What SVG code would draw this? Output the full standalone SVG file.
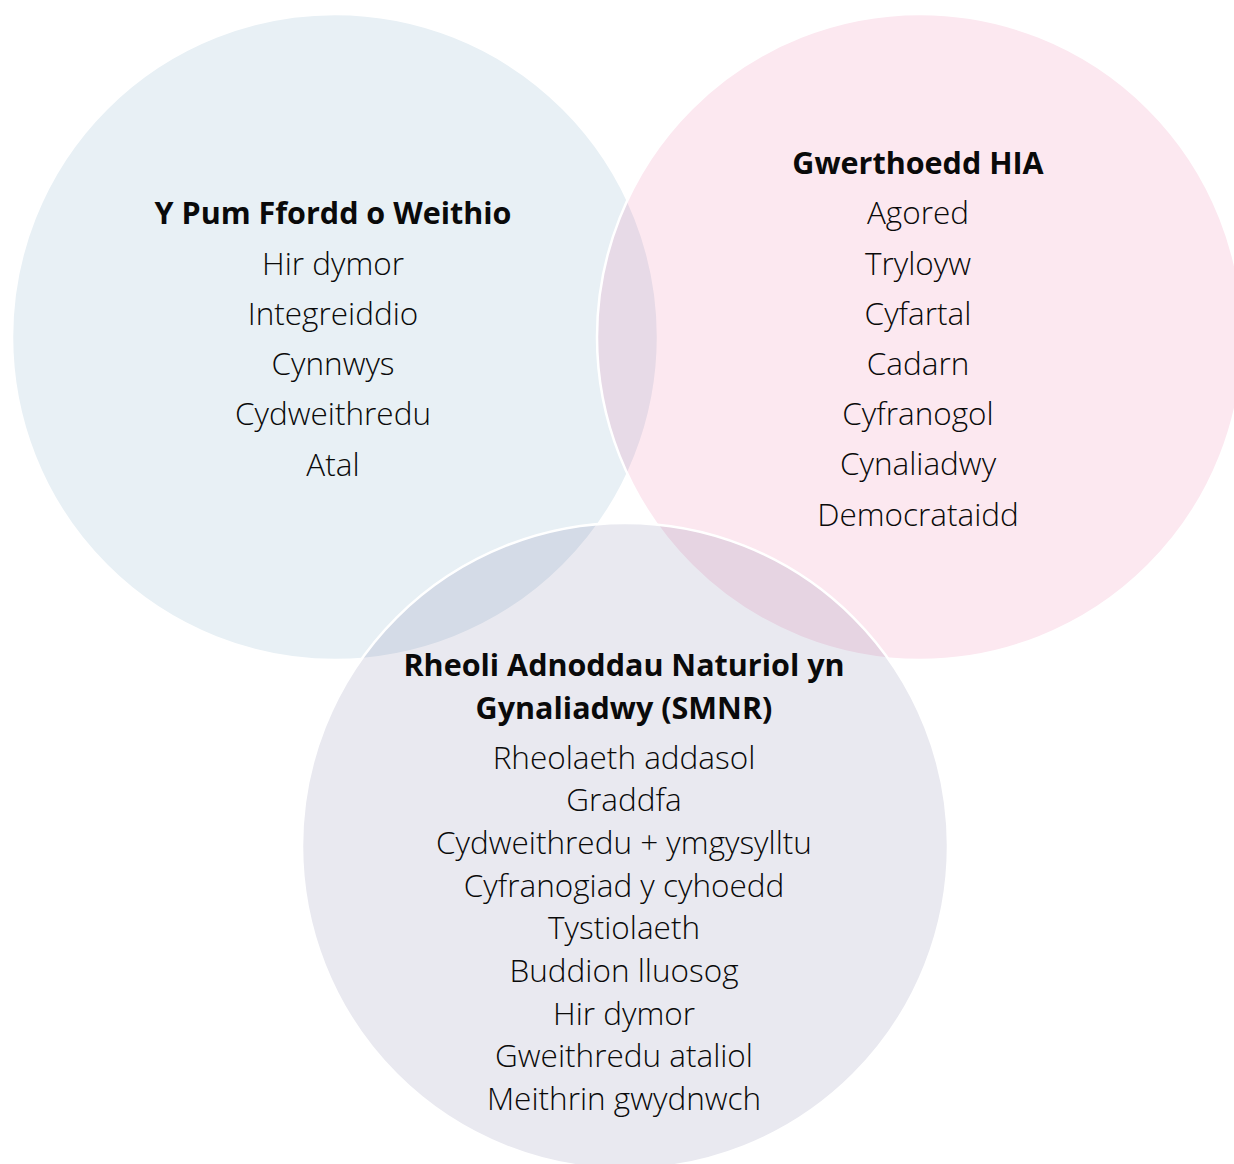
<svg xmlns="http://www.w3.org/2000/svg" width="1234" height="1164" viewBox="0 0 1234 1164">
<style>
.c{stroke:#ffffff;stroke-width:2.5;fill-opacity:0.1}
text{font-family:"Open Sans","DejaVu Sans",sans-serif;fill:#0a0a0a;text-anchor:middle}
.t{font-weight:700;font-size:30.5px}
.r{font-weight:300;font-size:31.5px}
</style>
<rect width="1234" height="1164" fill="#ffffff"/>
<g id="circle-ways">
<circle class="c" cx="335" cy="337" r="323" fill="#1f6a9e"/>
</g>
<g id="circle-hia">
<circle class="c" cx="920" cy="337" r="323" fill="#e01e68"/>
</g>
<g id="circle-smnr">
<circle class="c" cx="625" cy="846" r="323" fill="#2a2a6e"/>
</g>
<g id="text-ways">
<text class="t" x="333" y="224">Y Pum Ffordd o Weithio</text>
<text class="r" x="333" y="275">Hir dymor</text>
<text class="r" x="333" y="325">Integreiddio</text>
<text class="r" x="333" y="375">Cynnwys</text>
<text class="r" x="333" y="425">Cydweithredu</text>
<text class="r" x="333" y="476">Atal</text>
</g>
<g id="text-hia">
<text class="t" x="918" y="174">Gwerthoedd HIA</text>
<text class="r" x="918" y="224">Agored</text>
<text class="r" x="918" y="275">Tryloyw</text>
<text class="r" x="918" y="325">Cyfartal</text>
<text class="r" x="918" y="375">Cadarn</text>
<text class="r" x="918" y="425">Cyfranogol</text>
<text class="r" x="918" y="475">Cynaliadwy</text>
<text class="r" x="918" y="526">Democrataidd</text>
</g>
<g id="text-smnr">
<text class="t" x="624" y="676">Rheoli Adnoddau Naturiol yn</text>
<text class="t" x="624" y="719">Gynaliadwy (SMNR)</text>
<text class="r" x="624" y="769">Rheolaeth addasol</text>
<text class="r" x="624" y="811">Graddfa</text>
<text class="r" x="624" y="854">Cydweithredu + ymgysylltu</text>
<text class="r" x="624" y="897">Cyfranogiad y cyhoedd</text>
<text class="r" x="624" y="939">Tystiolaeth</text>
<text class="r" x="624" y="982">Buddion lluosog</text>
<text class="r" x="624" y="1025">Hir dymor</text>
<text class="r" x="624" y="1067">Gweithredu ataliol</text>
<text class="r" x="624" y="1110">Meithrin gwydnwch</text>
</g>
<g id="connectors"></g>
</svg>
